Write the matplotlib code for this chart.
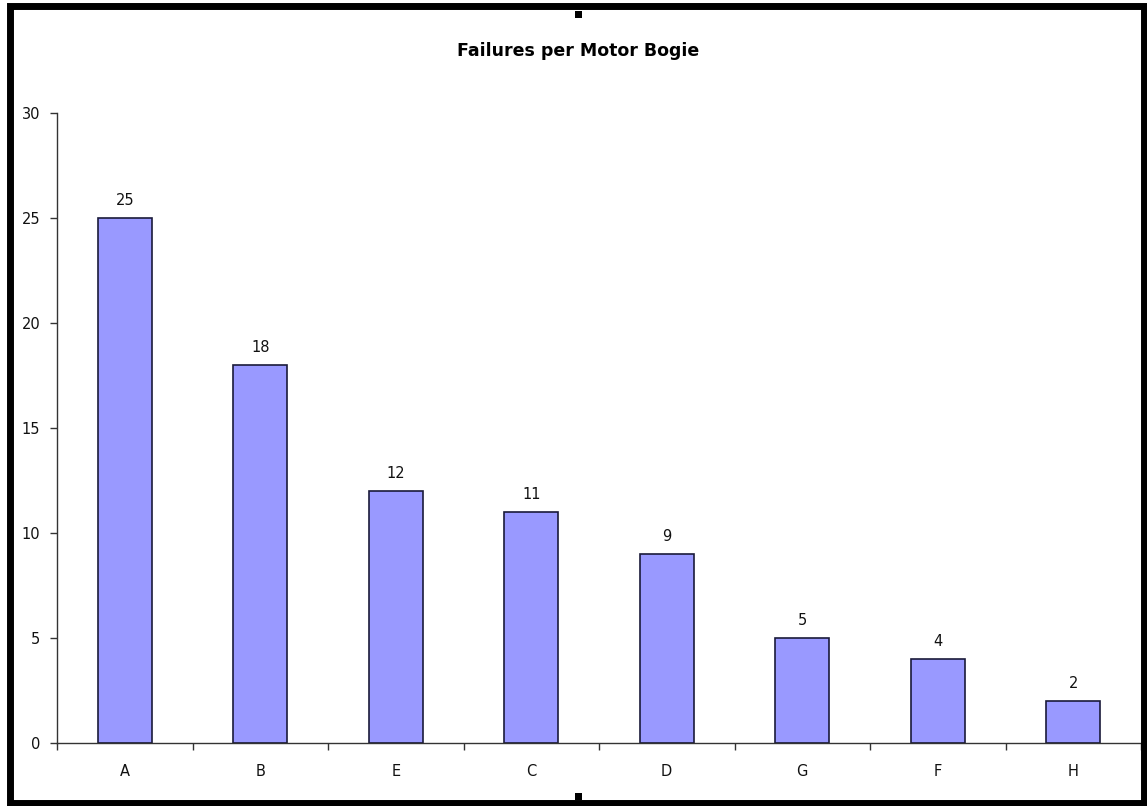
import matplotlib
matplotlib.use("Agg")
import matplotlib.pyplot as plt
from matplotlib.patches import Rectangle
import numpy as np

categories = ["A", "B", "E", "C", "D", "G", "F", "H"]
failures = [25, 18, 12, 11, 9, 5, 4, 2]
title = "Failures per Motor Bogie"

plt.rcParams['font.family'] = ['DejaVu Sans']

W, H = 1147, 806
fig = plt.figure(figsize=(W / 100, H / 100), dpi=100)
fig.patch.set_facecolor("white")

ax = fig.add_axes([57 / W, 1 - 743 / H, (1141 - 57) / W, (743 - 113) / H])
x = np.arange(len(categories)) + 0.5
bars = ax.bar(x, failures, width=0.4, color="#9999FF", edgecolor="#1a1a3a", linewidth=1.2)
for xi, v in zip(x, failures):
    ax.annotate(str(v), (xi, v), xytext=(0, 7), textcoords="offset points",
                ha="center", va="bottom", fontsize=10.5, color="#111111")

ax.set_xlim(0, len(categories))
ax.set_ylim(0, 30)
ax.set_yticks(range(0, 31, 5))
ax.set_xticks(np.arange(len(categories) + 1))
ax.set_xticklabels([])
ax.set_xticks(x, minor=True)
ax.set_xticklabels(categories, minor=True)
ax.tick_params(axis="x", which="major", direction="out", length=5, width=1, color="#333333")
ax.tick_params(axis="x", which="minor", length=0, pad=15, labelsize=10.5, labelcolor="#111111")
ax.tick_params(axis="y", direction="out", length=5, width=1, color="#333333", labelsize=10.5,
               pad=7, labelcolor="#111111")
for s in ["top", "right"]:
    ax.spines[s].set_visible(False)
for s in ["left", "bottom"]:
    ax.spines[s].set_color("#333333")
    ax.spines[s].set_linewidth(1)
ax.set_facecolor("white")

fig.text(578 / W, 1 - 51 / H, title, ha="center", va="center", fontsize=12.5, fontweight="bold")

# outer border
fig.patches.append(Rectangle((10 / W, 3 / H), (1144 - 10) / W, (800 - 3) / H, transform=fig.transFigure,
                             fill=False, edgecolor="black", linewidth=5, clip_on=False))
# handles
for yc in (15, 797):
    fig.patches.append(Rectangle((575 / W, 1 - (yc + 3) / H), 7 / W, 7 / H, transform=fig.transFigure,
                                 facecolor="black", edgecolor="none"))

fig.savefig("out.png", dpi=100)
